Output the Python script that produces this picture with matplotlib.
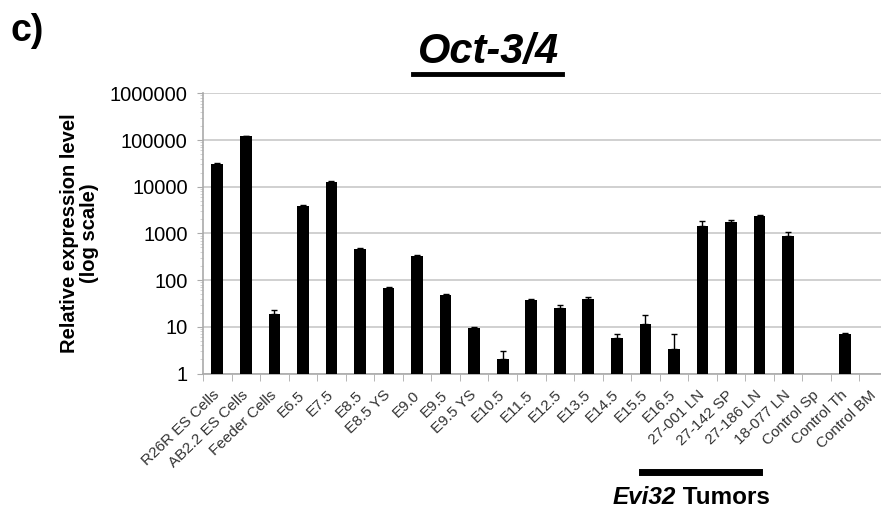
import numpy as np
import matplotlib
matplotlib.use("Agg")
import matplotlib.pyplot as plt
from matplotlib.ticker import FixedLocator, NullFormatter, LogLocator

plt.rcParams['font.family'] = ['Liberation Sans', 'DejaVu Sans']

categories = ["R26R ES Cells", "AB2.2 ES Cells", "Feeder Cells", "E6.5", "E7.5",
              "E8.5", "E8.5 YS", "E9.0", "E9.5", "E9.5 YS", "E10.5", "E11.5",
              "E12.5", "E13.5", "E14.5", "E15.5", "E16.5", "27-001 LN",
              "27-142 SP", "27-186 LN", "18-077 LN", "Control Sp", "Control Th",
              "Control BM"]
values = [31000, 120000, 18.5, 3800, 12900, 460, 69, 330, 48, 9.3, 2.0, 37,
          25, 39, 5.7, 11.6, 3.4, 1430, 1770, 2380, 890, 0, 7.0, 0]
errors = [1500, 4000, 4.3, 200, 600, 15, 3, 12, 2, 0.6, 1.0, 2,
          4.5, 5.5, 1.3, 6.5, 3.5, 370, 120, 60, 190, 0, 0.3, 0]
yticks = [1, 10, 100, 1000, 10000, 100000, 1000000]
ytick_labels = ["1", "10", "100", "1000", "10000", "100000", "1000000"]
group_label = "Tumors"

fig = plt.figure(figsize=(8.81, 5.09), dpi=100)
ax = fig.add_axes([203/881, (509-373.5)/509, 685/881, 280.2/509])

x = np.arange(len(categories))
vals = np.array(values, dtype=float)
errs = np.array(errors, dtype=float)
mask = vals > 0
ax.bar(x[mask], vals[mask], width=0.41, color='black', zorder=3)
ax.errorbar(x[mask], vals[mask], yerr=[np.zeros(mask.sum()), errs[mask]],
            fmt='none', ecolor='black', elinewidth=1.0, capsize=2.5,
            capthick=1.0, zorder=4)

ax.set_yscale('log')
ax.set_ylim(1, 1000000)
ax.set_xlim(-0.5, len(categories) - 0.5)
ax.yaxis.set_major_locator(FixedLocator(yticks))
ax.set_yticklabels(ytick_labels, fontsize=14.5)
ax.yaxis.set_minor_locator(LogLocator(base=10, subs=np.arange(2, 10)))
ax.yaxis.set_minor_formatter(NullFormatter())
ax.tick_params(axis='y', which='major', length=4, color='#aaaaaa', pad=7)
ax.tick_params(axis='y', which='minor', length=2, color='#cccccc')
ax.grid(axis='y', which='major', color='#c8c8c8', linewidth=1.2, zorder=0)

ax.set_xticks(x)
ax.set_xticklabels(categories, rotation=44, ha='right', va='center',
                   rotation_mode='anchor', fontsize=11, color='#333333')
ax.tick_params(axis='x', which='major', length=0, pad=14)
ax.set_xticks(np.arange(-0.5, len(categories), 1.0), minor=True)
ax.tick_params(axis='x', which='minor', length=5, color='#aaaaaa')

for s in ['top', 'right']:
    ax.spines[s].set_visible(False)
for s in ['left', 'bottom']:
    ax.spines[s].set_color('#aaaaaa')
    ax.spines[s].set_linewidth(1.2)

ax.set_ylabel("Relative expression level\n(log scale)", fontsize=14.5,
              fontweight='bold', labelpad=8, linespacing=1.05)

fig.text(10/881, 1 - 31/509, "c)", fontsize=27, fontweight='bold', va='center', ha='left')
fig.text(489/881, 1 - 52.5/509, "Oct-3/4", fontsize=30, fontweight='bold',
         style='italic', ha='center', va='center')
fig.add_artist(plt.Line2D([413/881, 562/881], [1 - 74/509, 1 - 74/509],
                          color='black', linewidth=3.5))

# group bar under tumor samples
fig.add_artist(plt.Line2D([642/881, 759/881], [1 - 472/509, 1 - 472/509],
                          color='black', linewidth=5))
fig.text(676/881, 1 - 497/509, "Evi32", fontsize=17.5, fontweight='bold',
         style='italic', ha='right', va='center')
fig.text(676/881, 1 - 497/509, " " + group_label, fontsize=17.5,
         fontweight='bold', ha='left', va='center')

fig.savefig("out.png", dpi=100)
